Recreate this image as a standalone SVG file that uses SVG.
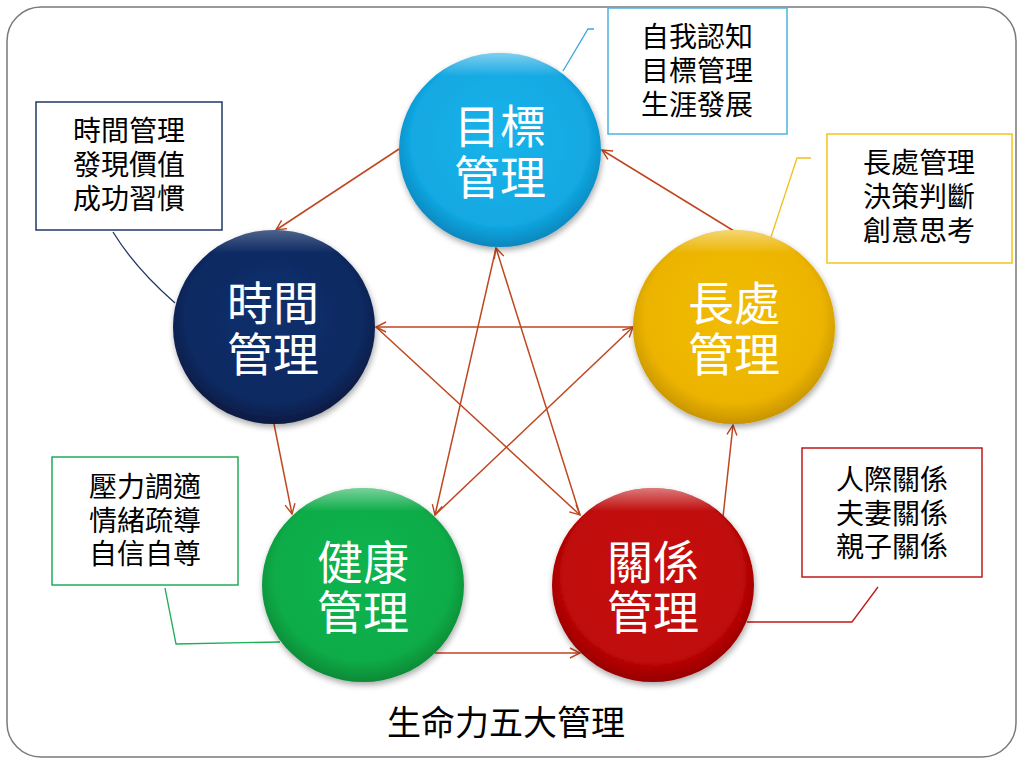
<svg xmlns="http://www.w3.org/2000/svg" width="1024" height="768" viewBox="0 0 1024 768">
<style>
.frame{fill:#fff;stroke:#7a7a7a;stroke-width:1.5}
.ctext{font-family:"Noto Sans CJK TC","Noto Sans CJK SC",sans-serif;font-size:46px;fill:#fff;text-anchor:middle}
.btext{font-family:"Noto Sans CJK TC","Noto Sans CJK SC",sans-serif;font-size:28px;fill:#000;text-anchor:middle}
.title{font-family:"Noto Sans CJK TC","Noto Sans CJK SC",sans-serif;font-size:34px;fill:#000;text-anchor:middle}
.box{fill:#fff;stroke-width:1.5}
.lead{fill:none;stroke-width:1.3}
.arrow{fill:none;stroke:#c0461f;stroke-width:1.5;marker-end:url(#ah)}
</style>
<defs>
<marker id="ah" viewBox="0 0 12 12" refX="11" refY="6" markerWidth="12" markerHeight="12" markerUnits="userSpaceOnUse" orient="auto">
<path d="M1,1 L11,6 L1,11" fill="none" stroke="#c0461f" stroke-width="1.4"/>
</marker>
<filter id="sh" x="-20%" y="-20%" width="140%" height="140%">
<feGaussianBlur in="SourceAlpha" stdDeviation="3"/>
<feOffset dx="1" dy="3" result="b"/>
<feComponentTransfer><feFuncA type="linear" slope="0.35"/></feComponentTransfer>
<feMerge><feMergeNode/><feMergeNode in="SourceGraphic"/></feMerge>
</filter>
<radialGradient id="gBlue" cx="50%" cy="45%" r="55%"><stop offset="0" stop-color="#1ab4ea"/><stop offset="0.8" stop-color="#12a8e2"/><stop offset="1" stop-color="#0a86bd"/></radialGradient>
<radialGradient id="gNavy" cx="50%" cy="45%" r="55%"><stop offset="0" stop-color="#12306c"/><stop offset="0.8" stop-color="#0e2a62"/><stop offset="1" stop-color="#081a42"/></radialGradient>
<radialGradient id="gGold" cx="50%" cy="45%" r="55%"><stop offset="0" stop-color="#f2bc08"/><stop offset="0.8" stop-color="#ecb400"/><stop offset="1" stop-color="#c89400"/></radialGradient>
<radialGradient id="gGreen" cx="50%" cy="45%" r="55%"><stop offset="0" stop-color="#10b450"/><stop offset="0.8" stop-color="#0aac48"/><stop offset="1" stop-color="#078a36"/></radialGradient>
<radialGradient id="gRed" cx="50%" cy="45%" r="55%"><stop offset="0" stop-color="#c81010"/><stop offset="0.8" stop-color="#c00808"/><stop offset="1" stop-color="#960000"/></radialGradient>
<linearGradient id="hl" x1="0" y1="0" x2="0" y2="1"><stop offset="0" stop-color="#fff" stop-opacity="0.45"/><stop offset="0.12" stop-color="#fff" stop-opacity="0"/></linearGradient>
</defs>

<rect class="frame" x="7" y="7" width="1009" height="750" rx="34" ry="34"/>

<g id="connectors">
<line class="arrow" x1="399" y1="149" x2="276" y2="230"/>
<line class="arrow" x1="734" y1="231" x2="602" y2="150"/>
<line class="arrow" x1="274" y1="424" x2="292" y2="514"/>
<line class="arrow" x1="435" y1="653" x2="580" y2="653"/>
<line class="arrow" x1="723" y1="517" x2="733" y2="425"/>
<line class="arrow" x1="496" y1="248" x2="435" y2="515"/>
<line class="arrow" x1="435" y1="515" x2="633" y2="327"/>
<line class="arrow" x1="633" y1="327" x2="376" y2="327"/>
<line class="arrow" x1="376" y1="327" x2="580" y2="515"/>
<line class="arrow" x1="580" y1="515" x2="496" y2="248"/>
<polyline class="lead" stroke="#3aa8dc" points="563,71 588,29 594,29"/>
<path class="lead" stroke="#1f3864" d="M113,232 Q135,268 175,303"/>
<polyline class="lead" stroke="#f0c020" points="771,237 797,158 811,158"/>
<polyline class="lead" stroke="#1fae5a" points="165,588 176,644 280,642"/>
<polyline class="lead" stroke="#c01818" points="747,622 852,622 878,587"/>
</g>

<g id="node-goal">
<ellipse cx="500" cy="150" rx="101" ry="97" fill="url(#gBlue)" filter="url(#sh)"/>
<ellipse cx="500" cy="150" rx="101" ry="97" fill="url(#hl)"/>
<text class="ctext" x="500" y="143">目標<tspan x="500" dy="51">管理</tspan></text>
</g>
<g id="node-time">
<ellipse cx="274" cy="327" rx="101" ry="97" fill="url(#gNavy)" filter="url(#sh)"/>
<ellipse cx="274" cy="327" rx="101" ry="97" fill="url(#hl)" opacity="0.6"/>
<text class="ctext" x="273" y="320">時間<tspan x="273" dy="51">管理</tspan></text>
</g>
<g id="node-strength">
<ellipse cx="734" cy="327" rx="101" ry="97" fill="url(#gGold)" filter="url(#sh)"/>
<ellipse cx="734" cy="327" rx="101" ry="97" fill="url(#hl)"/>
<text class="ctext" x="734" y="320">長處<tspan x="734" dy="51">管理</tspan></text>
</g>
<g id="node-health">
<ellipse cx="363" cy="585" rx="101" ry="97" fill="url(#gGreen)" filter="url(#sh)"/>
<ellipse cx="363" cy="585" rx="101" ry="97" fill="url(#hl)"/>
<text class="ctext" x="363" y="579">健康<tspan x="363" dy="50">管理</tspan></text>
</g>
<g id="node-relation">
<ellipse cx="653" cy="585" rx="101" ry="97" fill="url(#gRed)" filter="url(#sh)"/>
<ellipse cx="653" cy="585" rx="101" ry="97" fill="url(#hl)"/>
<text class="ctext" x="653" y="579">關係<tspan x="653" dy="50">管理</tspan></text>
</g>

<g id="box-goal">
<rect class="box" stroke="#4bb4e0" x="608" y="8" width="179" height="126"/>
<text class="btext" x="697" y="47">自我認知<tspan x="697" dy="34">目標管理</tspan><tspan x="697" dy="34">生涯發展</tspan></text>
</g>
<g id="box-time">
<rect class="box" stroke="#1f3864" x="36" y="102" width="186" height="128"/>
<text class="btext" x="129" y="141">時間管理<tspan x="129" dy="34">發現價值</tspan><tspan x="129" dy="34">成功習慣</tspan></text>
</g>
<g id="box-strength">
<rect class="box" stroke="#f5c518" x="827" y="134" width="185" height="129"/>
<text class="btext" x="919" y="173">長處管理<tspan x="919" dy="34">決策判斷</tspan><tspan x="919" dy="34">創意思考</tspan></text>
</g>
<g id="box-health">
<rect class="box" stroke="#1fae5a" x="52" y="457" width="186" height="128"/>
<text class="btext" x="145" y="497">壓力調適<tspan x="145" dy="34">情緒疏導</tspan><tspan x="145" dy="33">自信自尊</tspan></text>
</g>
<g id="box-relation">
<rect class="box" stroke="#c01818" x="802" y="448" width="180" height="129"/>
<text class="btext" x="892" y="490">人際關係<tspan x="892" dy="34">夫妻關係</tspan><tspan x="892" dy="33">親子關係</tspan></text>
</g>

<text class="title" x="506" y="735">生命力五大管理</text>
</svg>
